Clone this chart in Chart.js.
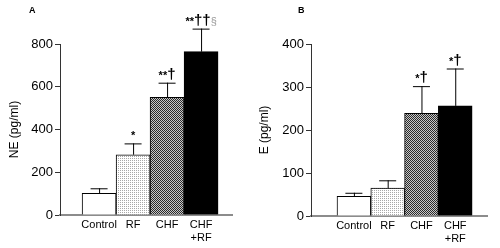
<!DOCTYPE html>
<html>
<head>
<meta charset="utf-8">
<script src="https://cdn.jsdelivr.net/npm/chart.js@4/dist/chart.umd.min.js"></script>
<style>
  html, body { margin: 0; padding: 0; background: #fff; }
  #wrap { width: 500px; height: 248px; display: flex; }
  canvas { display: block; }
</style>
</head>
<body>
<div id="wrap">
  <canvas id="panelA" width="250" height="248"></canvas>
  <canvas id="panelB" width="250" height="248"></canvas>
</div>
<script>
const groups = ['Control', 'RF', 'CHF', ['CHF', '+RF']];

// panel A - NE
const neMean = [101, 282, 551, 764];
const neErr = [125, 335, 619, 872];
const neMarks = ['', '*', '**\u2020', '**\u2020\u2020\u00a7'];
const neTicks = [0, 200, 400, 600, 800];

// panel B - E
const eMean = [46, 65, 239, 256];
const eErr = [54, 83, 302, 343];
const eMarks = ['', '', '*\u2020', '*\u2020'];
const eTicks = [0, 100, 200, 300, 400];

const FONT = "'Liberation Sans', Arial, sans-serif";

function makePattern(kind) {
  const c = document.createElement('canvas');
  c.width = 2; c.height = 2;
  const g = c.getContext('2d');
  if (kind === 'dots') {
    g.fillStyle = '#fff'; g.fillRect(0, 0, 2, 2);
    g.fillStyle = '#a8a8a8'; g.fillRect(0, 0, 1, 1);
  } else {
    g.fillStyle = '#c8c8c8'; g.fillRect(0, 0, 2, 2);
    g.fillStyle = '#2a2a2a'; g.fillRect(0, 0, 1, 1); g.fillRect(1, 1, 1, 1);
  }
  return g.createPattern(c, 'repeat');
}

const fills = ['#ffffff', makePattern('dots'), makePattern('checker'), '#000000'];

function markFont(ch) {
  if (ch === '\u00a7') return '11px ' + FONT;
  if (ch === '*') return 'bold 11px ' + FONT;
  return 'bold 15px ' + FONT;
}

// upper error bars + significance marks
const errorBars = {
  id: 'errorBars',
  afterDatasetsDraw(chart, args, opts) {
    const ctx = chart.ctx;
    const yScale = chart.scales.y;
    const meta = chart.getDatasetMeta(0);
    ctx.save();
    meta.data.forEach((bar, i) => {
      const yTop = yScale.getPixelForValue(opts.err[i]);
      ctx.strokeStyle = '#000';
      ctx.lineWidth = 1;
      ctx.beginPath();
      ctx.moveTo(bar.x + 0.5, bar.y);
      ctx.lineTo(bar.x + 0.5, yTop);
      ctx.moveTo(bar.x - 8.5, yTop + 0.5);
      ctx.lineTo(bar.x + 8.5, yTop + 0.5);
      ctx.stroke();

      const txt = opts.marks[i];
      if (!txt) return;
      ctx.textBaseline = 'alphabetic';
      ctx.textAlign = 'left';
      let w = 0;
      for (const ch of txt) { ctx.font = markFont(ch); w += ctx.measureText(ch).width; }
      let x = bar.x - w / 2;
      for (const ch of txt) {
        ctx.font = markFont(ch);
        ctx.fillStyle = ch === '\u00a7' ? '#9a9a9a' : '#000';
        ctx.fillText(ch, x, yTop - 4);
        x += ctx.measureText(ch).width;
      }
    });
    ctx.font = 'bold 9px ' + FONT;
    ctx.fillStyle = '#000';
    ctx.textAlign = 'left';
    ctx.fillText(opts.panel, opts.panelX, 13);
    ctx.restore();
  }
};

function buildChart(id, cfg) {
  const ctx = document.getElementById(id).getContext('2d');
  return new Chart(ctx, {
    type: 'bar',
    data: {
      datasets: [{
        data: cfg.mean.map((v, i) => ({ x: i, y: v })),
        backgroundColor: fills,
        borderColor: '#000',
        borderWidth: 1,
        barPercentage: 1,
        categoryPercentage: 1,
        clip: false
      }]
    },
    options: {
      responsive: false,
      animation: false,
      layout: { padding: { top: 44, right: cfg.padRight, left: 0, bottom: 0 } },
      plugins: {
        legend: { display: false },
        tooltip: { enabled: false },
        errorBars: { err: cfg.err, marks: cfg.marks, panel: cfg.panel, panelX: cfg.panelX }
      },
      scales: {
        x: {
          type: 'linear',
          offset: false,
          min: cfg.xMin,
          max: cfg.xMax,
          afterBuildTicks: s => { s.ticks = [0, 1, 2, 3].map(v => ({ value: v })); },
          afterFit: s => { s.height = cfg.xHeight; },
          grid: { display: false, drawTicks: false, offset: false },
          border: { display: true, color: '#8c8c8c', width: 2 },
          ticks: {
            padding: 3,
            autoSkip: false,
            maxRotation: 0,
            color: '#000',
            font: { family: FONT, size: 11 },
            callback: v => groups[v]
          }
        },
        y: {
          min: 0,
          max: cfg.yTicks[cfg.yTicks.length - 1],
          afterBuildTicks: s => { s.ticks = cfg.yTicks.map(v => ({ value: v })); },
          afterFit: s => { s.width = cfg.yWidth; },
          grid: { drawOnChartArea: false, drawTicks: true, tickLength: 5, color: '#333' },
          border: { display: true, color: '#333', width: 1 },
          ticks: {
            padding: 2,
            color: '#000',
            font: { family: FONT, size: 13 }
          },
          title: {
            display: true,
            text: cfg.yTitle,
            color: '#000',
            font: { family: FONT, size: 12 },
            padding: { top: 7, bottom: 0 }
          }
        }
      }
    },
    plugins: [errorBars]
  });
}

buildChart('panelA', {
  mean: neMean, err: neErr, marks: neMarks, yTicks: neTicks,
  yTitle: 'NE (pg/ml)', panel: 'A', panelX: 29,
  xMin: -1.15, xMax: 3.91, yWidth: 60, padRight: 18, xHeight: 33
});

buildChart('panelB', {
  mean: eMean, err: eErr, marks: eMarks, yTicks: eTicks,
  yTitle: 'E (pg/ml)', panel: 'B', panelX: 48,
  xMin: -1.27, xMax: 3.94, yWidth: 61, padRight: 13, xHeight: 32
});
</script>
</body>
</html>
